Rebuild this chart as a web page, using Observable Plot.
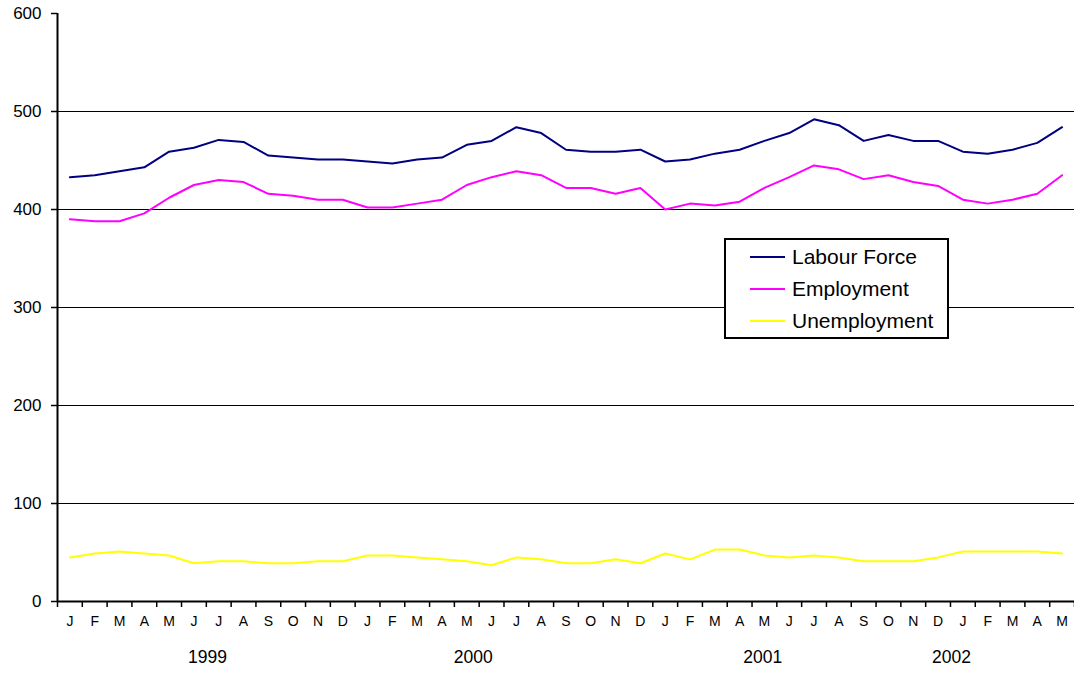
<!DOCTYPE html>
<html>
<head>
<meta charset="utf-8">
<script src="https://cdn.jsdelivr.net/npm/d3@7"></script>
<script src="https://cdn.jsdelivr.net/npm/@observablehq/plot@0.6"></script>
<style>
  html, body { margin: 0; padding: 0; background: #fff; }
  #wrap { position: relative; width: 1074px; height: 673px; font-family: Arial, "Liberation Sans", sans-serif; }
  #legend { position: absolute; left: 724px; top: 238px; width: 221px; height: 97px; border: 2px solid #000; background: #fff; }
  #legend .row { position: absolute; left: 0; height: 32px; display: flex; align-items: center; font-size: 21px; color: #000; }
  #legend .sw { width: 35px; height: 0; border-top: 2px solid; margin-left: 24px; margin-right: 7px; }
</style>
</head>
<body>
<div id="wrap"></div>
<script>
// Monthly series, Jan 1999 – May 2002
const monthLetters = ["J","F","M","A","M","J","J","A","S","O","N","D",
                      "J","F","M","A","M","J","J","A","S","O","N","D",
                      "J","F","M","A","M","J","J","A","S","O","N","D",
                      "J","F","M","A","M"];
const labourForce = [433,435,439,443,459,463,471,469,455,453,451,451,
                     449,447,451,453,466,470,484,478,461,459,459,461,
                     449,451,457,461,470,478,492,486,470,476,470,470,
                     459,457,461,468,484];
const employment = [390,388,388,396,412,425,430,428,416,414,410,410,
                    402,402,406,410,425,433,439,435,422,422,416,422,
                    400,406,404,408,422,433,445,441,431,435,428,424,
                    410,406,410,416,435];
const unemployment = [45,49,51,49,47,39,41,41,39,39,41,41,
                      47,47,45,43,41,37,45,43,39,39,43,39,
                      49,43,53,53,47,45,47,45,41,41,41,45,
                      51,51,51,51,49];
// Year labels and the month index they are centred on
const yearLabels = ["1999","2000","2001","2002"];
const yearPositions = [5.55, 16.26, 27.93, 35.54];
const yTicks = [0,100,200,300,400,500,600];
const gridValues = [100,200,300,400,500];
const seriesNames = ["Labour Force","Employment","Unemployment"];
const seriesColors = ["#000080","#FF00FF","#FFFF00"];

const idx = monthLetters.map((_, i) => i);
const boundaries = d3.range(monthLetters.length + 1).map(i => i - 0.5);
const rows = [];
[labourForce, employment, unemployment].forEach((arr, s) => {
  arr.forEach((v, i) => rows.push({series: seriesNames[s], i, v}));
});
const years = yearLabels.map((t, k) => ({t, x: yearPositions[k]}));

const chart = Plot.plot({
  width: 1074,
  height: 673,
  marginLeft: 57,
  marginRight: 0,
  marginTop: 13,
  marginBottom: 72,
  style: {fontFamily: 'Arial, "Liberation Sans", sans-serif', background: "#fff", color: "#000"},
  x: {type: "linear", domain: [-0.5, monthLetters.length - 0.5], axis: null},
  y: {domain: [0, 600], axis: null},
  color: {domain: seriesNames, range: seriesColors},
  marks: [
    Plot.ruleY(gridValues, {stroke: "#000", strokeWidth: 1}),
    Plot.axisY({ticks: yTicks, tickSize: 6, tickPadding: 10, fontSize: 17, label: null, stroke: "#000", strokeWidth: 1.5}),
    Plot.axisX({ticks: boundaries, tickSize: 6, tickFormat: () => "", label: null, stroke: "#000", strokeWidth: 1.5}),
    Plot.lineY(rows, {x: "i", y: "v", z: "series", stroke: "series", strokeWidth: 2}),
    Plot.ruleY([0], {stroke: "#000", strokeWidth: 2}),
    Plot.ruleX([-0.5], {stroke: "#000", strokeWidth: 2}),
    Plot.text(idx, {x: d => d, text: d => monthLetters[d], frameAnchor: "bottom", dy: 24, fontSize: 14, fill: "#000"}),
    Plot.text(years, {x: "x", text: "t", frameAnchor: "bottom", dy: 61, fontSize: 17.5, fill: "#000"})
  ]
});
const wrap = document.getElementById("wrap");
wrap.appendChild(chart);

const legend = document.createElement("div");
legend.id = "legend";
seriesNames.forEach((name, k) => {
  const row = document.createElement("div");
  row.className = "row";
  row.style.top = (1 + k * 32) + "px";
  const sw = document.createElement("span");
  sw.className = "sw";
  sw.style.borderTopColor = seriesColors[k];
  const lab = document.createElement("span");
  lab.textContent = name;
  row.appendChild(sw);
  row.appendChild(lab);
  legend.appendChild(row);
});
wrap.appendChild(legend);
</script>
</body>
</html>
